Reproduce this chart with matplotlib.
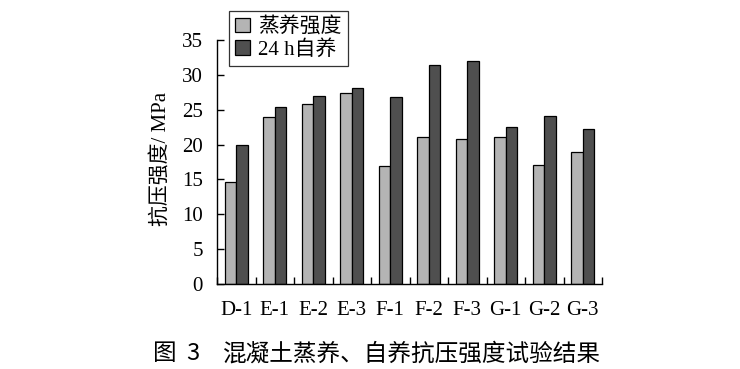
import matplotlib
matplotlib.use("Agg")
import matplotlib.pyplot as plt
import numpy as np

categories = ["D-1", "E-1", "E-2", "E-3", "F-1", "F-2", "F-3", "G-1", "G-2", "G-3"]
steam = [14.7, 23.9, 25.8, 27.4, 16.9, 21.1, 20.8, 21.1, 17.1, 19.0]
self_cure = [20.0, 25.4, 27.0, 28.1, 26.8, 31.4, 32.0, 22.5, 24.1, 22.2]
series_labels = ["蒸养强度", "24 h自养"]
yticks = [0, 5, 10, 15, 20, 25, 30, 35]

plt.rcParams['font.family'] = ['Liberation Serif', 'Noto Sans CJK SC']
plt.rcParams['axes.unicode_minus'] = False

fig = plt.figure(figsize=(7.4, 3.69), dpi=100)
W, H = 740, 369
ax = fig.add_axes([217 / W, 1 - 284 / H, (602 - 217) / W, (284 - 40) / H])

x = np.arange(len(categories))
bw = 0.3
ax.bar(x - bw / 2, steam, width=bw, color="#b4b4b4", edgecolor="black", linewidth=0.9, label=series_labels[0])
ax.bar(x + bw / 2, self_cure, width=bw, color="#4f4f4f", edgecolor="black", linewidth=0.9, label=series_labels[1])

ax.set_xlim(-0.5, len(categories) - 0.5)
ax.set_ylim(0, 35)
ax.set_yticks(yticks)
ax.set_yticklabels([str(v) for v in yticks], fontsize=15)
ax.set_xticks(x)
ax.set_xticklabels(categories, fontsize=15)
ax.tick_params(axis='x', which='major', length=0, pad=12)
ax.set_xticks(np.arange(len(categories) + 1) - 0.5, minor=True)
ax.tick_params(axis='x', which='minor', direction='in', length=5, width=1)
ax.tick_params(axis='y', direction='in', length=5, width=1, pad=10)

for s in ['top', 'right']:
    ax.spines[s].set_visible(False)
for s in ['left', 'bottom']:
    ax.spines[s].set_linewidth(1.0)

fig.text(161 / W, 1 - 159 / H, "抗压强度/ MPa", rotation=90, ha='center', va='center', fontsize=15)

leg = ax.legend(loc='upper left', bbox_to_anchor=(229 / W, 1 - 11 / H), bbox_transform=fig.transFigure,
                fontsize=15, frameon=True, fancybox=False, edgecolor='black',
                handlelength=0.7, handleheight=0.7, handletextpad=0.4,
                borderpad=0.3, labelspacing=0.15, borderaxespad=0)
leg.get_frame().set_linewidth(0.9)

fig.text(153 / W, 1 - 354 / H, "图  3", ha='left', va='center',
         fontsize=17, family=['Noto Sans CJK SC', 'DejaVu Sans'])
fig.text(223 / W, 1 - 354 / H, "混凝土蒸养、自养抗压强度试验结果", ha='left', va='center',
         fontsize=17, family=['Noto Sans CJK SC', 'DejaVu Sans'])

fig.savefig("out.png", dpi=100)
